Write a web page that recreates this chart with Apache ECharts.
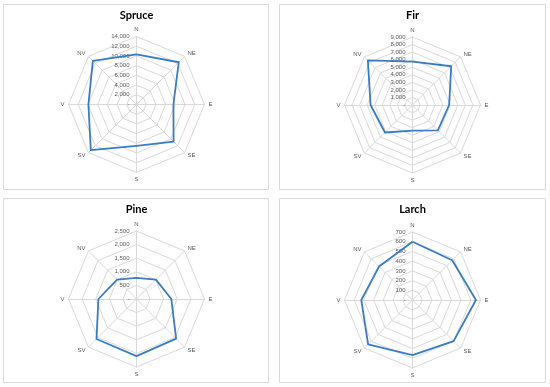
<!DOCTYPE html>
<html>
<head>
<meta charset="utf-8">
<script src="https://cdn.jsdelivr.net/npm/echarts@6/dist/echarts.min.js"></script>
<style>
html,body{margin:0;padding:0;background:#fff;}
#c{width:550px;height:387px;}
</style>
</head>
<body>
<div id="c"></div>
<script>
// Directions, clockwise from north (as in the reference)
const directions = ['N', 'NE', 'E', 'SE', 'S', 'SV', 'V', 'NV'];

const titles = ['Spruce', 'Fir', 'Pine', 'Larch'];

const spruce = [10300, 12300, 7600, 10800, 8500, 13300, 9900, 12700];
const fir    = [5750, 7250, 4850, 4750, 3400, 5150, 5550, 8350];
const pine   = [780, 1010, 1280, 2060, 2100, 2080, 1400, 1010];
const larch  = [600, 578, 653, 598, 568, 646, 527, 487];

const spruceTicks = ['-', '2,000', '4,000', '6,000', '8,000', '10,000', '12,000', '14,000'];
const firTicks    = ['-', '1,000', '2,000', '3,000', '4,000', '5,000', '6,000', '7,000', '8,000', '9,000'];
const pineTicks   = ['-', '500', '1,000', '1,500', '2,000', '2,500'];
const larchTicks  = ['-', '100', '200', '300', '400', '500', '600', '700'];

const seriesValues = [spruce, fir, pine, larch];
const tickSets = [spruceTicks, firTicks, pineTicks, larchTicks];
const axisMax = [14000, 9000, 2500, 700];

// layout (pixels)
const panels = [
  {x: 3.5, y: 4.5, w: 265, h: 185, cx: 136.5, cy: 104.5, ty: 15},
  {x: 279.5, y: 4.5, w: 266, h: 185, cx: 412.5, cy: 105, ty: 15},
  {x: 3.5, y: 198.5, w: 265, h: 184, cx: 136.5, cy: 299, ty: 209.5},
  {x: 279.5, y: 198.5, w: 266, h: 184, cx: 412.5, cy: 300, ty: 209.5}
];

// ECharts lays radar indicators counter-clockwise; reorder so they run clockwise
const order = [0, 7, 6, 5, 4, 3, 2, 1];
const reorder = arr => order.map(i => arr[i]);

const textColor = '#595959';
const gridColor = '#d9d9d9';
const lineColor = '#3a7cc0';
const labelFont = '6px "Liberation Sans", sans-serif';

const radars = [];
const series = [];
const graphics = [];

panels.forEach((p, k) => {
  const ticks = tickSets[k];
  const max = axisMax[k];
  const step = max / (ticks.length - 1);
  const indicator = reorder(directions).map((name, i) => {
    const ind = {name: name, min: 0, max: max};
    if (i === 0) {
      ind.axisLabel = {
        show: true,
        showMinLabel: true,
        showMaxLabel: true,
        formatter: v => ticks[Math.round(v / step)] || ''
      };
    }
    return ind;
  });
  radars.push({
    center: [p.cx, p.cy],
    radius: 68,
    startAngle: 90,
    splitNumber: ticks.length - 1,
    shape: 'polygon',
    indicator: indicator,
    axisName: {color: textColor, fontSize: 6, fontFamily: 'Liberation Sans'},
    nameGap: 4,
    splitArea: {show: false},
    splitLine: {lineStyle: {color: gridColor, width: 1}},
    axisLine: {lineStyle: {color: gridColor, width: 1}},
    axisTick: {show: false},
    axisLabel: {show: false, showMinLabel: true, color: textColor, fontSize: 6, fontFamily: 'Liberation Sans', margin: 7}
  });
  series.push({
    type: 'radar',
    radarIndex: k,
    symbol: 'none',
    silent: true,
    lineStyle: {color: lineColor, width: 1.8},
    data: [{value: reorder(seriesValues[k]), name: titles[k]}]
  });
  graphics.push({
    type: 'rect',
    shape: {x: p.x, y: p.y, width: p.w, height: p.h},
    style: {fill: null, stroke: gridColor, lineWidth: 1}
  });
  graphics.push({
    type: 'text',
    x: p.cx,
    y: p.ty,
    style: {
      text: titles[k],
      fill: '#000',
      font: 'bold 11px Lato, "Liberation Sans", sans-serif',
      align: 'center',
      verticalAlign: 'middle'
    }
  });
  // zero tick label ("-") beside the centre of the north axis
  graphics.push({
    type: 'text',
    x: p.cx - 8,
    y: p.cy,
    style: {
      text: ticks[0],
      fill: textColor,
      font: labelFont,
      align: 'right',
      verticalAlign: 'middle'
    }
  });
});

const chart = echarts.init(document.getElementById('c'), null, {renderer: 'canvas'});
chart.setOption({
  animation: false,
  backgroundColor: '#fff',
  radar: radars,
  series: series,
  graphic: graphics
});
</script>
</body>
</html>
